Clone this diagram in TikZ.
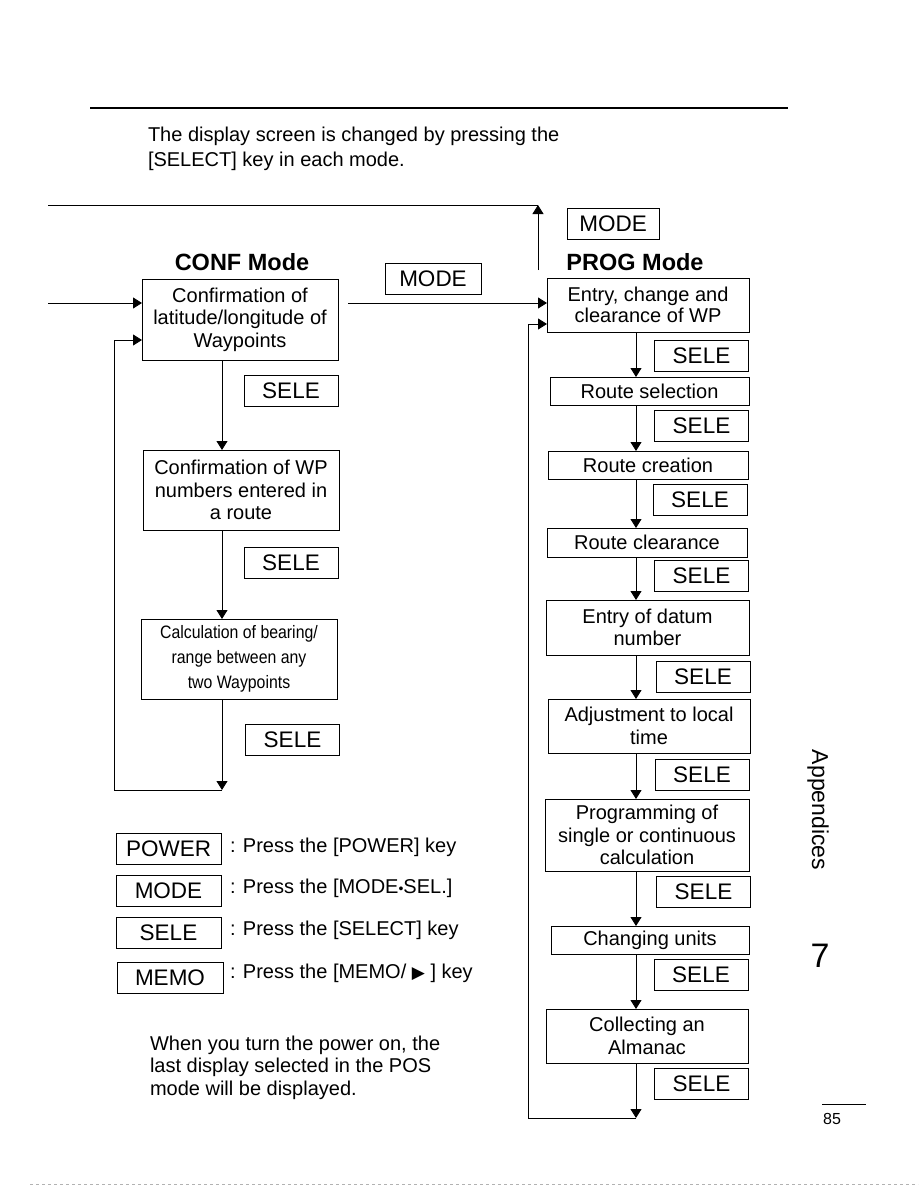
\documentclass[tikz,border=0pt]{standalone}
\usepackage{fontspec}
\setmainfont{Liberation Sans}
\newfontfamily\narrowfont[FakeStretch=0.88]{Liberation Sans}
\newfontfamily\symbolfont{DejaVu Sans}
\usetikzlibrary{arrows.meta}
\begin{document}
\begin{tikzpicture}[x=1pt,y=-1pt,line width=0.9pt,
  every node/.style={inner sep=0pt,outer sep=0pt},
  box/.style={draw,align=center,font=\fontsize{20}{22.5}\selectfont},
  keybox/.style={draw,minimum width=94pt,minimum height=31pt,font=\fontsize{22.5}{24}\selectfont},
  heading/.style={font=\fontsize{23.5}{26}\selectfont\bfseries},
  plain/.style={align=left,anchor=west,font=\fontsize{20}{25}\selectfont},
  arr/.style={-{Triangle[width=11pt,length=9pt]}}]
\useasboundingbox (0,0) rectangle (918,1188);
\draw[line width=2.5pt] (90,108) -- (788,108);
\node[plain] (intro) at (148,148.5) {The display screen is changed by pressing the\\{[SELECT]} key in each mode.};
\node[heading] (confhead) at (242,262) {CONF Mode};
\node[heading] (proghead) at (635,262) {PROG Mode};
\node[box,minimum width=196pt,minimum height=81pt] (conf1) at (240,319.5) {Confirmation of\\latitude/longitude of\\Waypoints};
\node[box,minimum width=196pt,minimum height=80pt] (conf2) at (241,490) {Confirmation of WP\\numbers entered in\\a route};
\node[box,minimum width=196pt,minimum height=80pt,font=\narrowfont\fontsize{18}{25}\selectfont] (conf3) at (239,659) {Calculation of bearing/\\range between any\\two Waypoints};
\node[keybox] (csele1) at (291,390.5) {SELE};
\node[keybox] (csele2) at (291,562.5) {SELE};
\node[keybox] (csele3) at (292.5,739.5) {SELE};
\node[keybox,minimum width=96pt] (modea) at (433,278.5) {MODE};
\node[keybox,minimum width=92pt] (modeb) at (613,223.5) {MODE};
\node[box,minimum width=202pt,minimum height=54pt,font=\fontsize{20}{21.5}\selectfont] (prog1) at (648,305) {Entry, change and\\clearance of WP};
\node[box,minimum width=199pt,minimum height=28pt] (prog2) at (649.5,391) {Route selection};
\node[box,minimum width=200pt,minimum height=28pt] (prog3) at (648,465) {Route creation};
\node[box,minimum width=200pt,minimum height=29pt] (prog4) at (647,542.5) {Route clearance};
\node[box,minimum width=203pt,minimum height=55pt] (prog5) at (647.5,627.5) {Entry of datum\\number};
\node[box,minimum width=202pt,minimum height=54pt] (prog6) at (649,726) {Adjustment to local\\time};
\node[box,minimum width=204pt,minimum height=72pt] (prog7) at (647,835) {Programming of\\single or continuous\\calculation};
\node[box,minimum width=198pt,minimum height=28pt] (prog8) at (650,940) {Changing units};
\node[box,minimum width=202pt,minimum height=54pt] (prog9) at (647,1036) {Collecting an\\Almanac};
\node[keybox] (psele1) at (701.5,355.5) {SELE};
\node[keybox] (psele2) at (701.5,426) {SELE};
\node[keybox] (psele3) at (700,500) {SELE};
\node[keybox] (psele4) at (701.5,575.5) {SELE};
\node[keybox] (psele5) at (703,676.5) {SELE};
\node[keybox] (psele6) at (702,774.5) {SELE};
\node[keybox] (psele7) at (703.5,891.5) {SELE};
\node[keybox] (psele8) at (701,975) {SELE};
\node[keybox] (psele9) at (701.5,1084) {SELE};
\coordinate (cx) at (222,0);
\coordinate (px) at (636,0);
\coordinate (cin) at (48,303);
\coordinate (cout) at (348,303);
\coordinate (cbot) at (222,790);
\coordinate (cret) at (114,340);
\coordinate (pbot) at (636,1118);
\coordinate (pret) at (528,324);
\coordinate (pup) at (538,270);
\coordinate (ptop) at (538,205);
\coordinate (tl) at (48,205);
\draw[arr] (cin) -- (conf1.west |- cin);
\draw[arr] (cout) -- (prog1.west |- cout);
\draw[arr] (pup) -- (ptop);
\draw (ptop) -- (tl);
\foreach \a/\b in {conf1/conf2,conf2/conf3}
  \draw[arr] (\a.south -| cx) -- (\b.north -| cx);
\draw[arr] (conf3.south -| cx) -- (cbot);
\draw[arr] (cbot) -| (cret) -- (conf1.west |- cret);
\foreach \a/\b in {prog1/prog2,prog2/prog3,prog3/prog4,prog4/prog5,prog5/prog6,prog6/prog7,prog7/prog8,prog8/prog9}
  \draw[arr] (\a.south -| px) -- (\b.north -| px);
\draw[arr] (prog9.south -| px) -- (pbot);
\draw[arr] (pbot) -| (pret) -- (prog1.west |- pret);
\node[keybox,minimum width=105pt] (kpower) at (168.5,848.5) {POWER};
\node[keybox,minimum width=105pt] (kmode) at (168.5,891) {MODE};
\node[keybox,minimum width=105pt] (ksele) at (168.5,933) {SELE};
\node[keybox,minimum width=106pt] (kmemo) at (170,977.5) {MEMO};
\node[plain] (tpower) at (230,847) {: Press the [POWER] key};
\node[plain] (tmode) at (230,888) {: Press the [MODE{\fontsize{14}{14}\selectfont\textbullet}SEL.]};
\node[plain] (tsele) at (230,930) {: Press the [SELECT] key};
\node[plain] (tmemo) at (230,973) {: Press the [MEMO/ {\symbolfont\fontsize{17}{17}\selectfont ▶} ] key};
\node[plain,font=\fontsize{20}{22.5}\selectfont] (note) at (150,1067.5) {When you turn the power on, the\\last display selected in the POS\\mode will be displayed.};
\node[rotate=-90,font=\fontsize{23}{23}\selectfont] (appx) at (818,810) {Appendices};
\node[font=\fontsize{34}{34}\selectfont] (chap) at (820,956) {7};
\draw (822,1104) -- (866,1104);
\node[font=\fontsize{16}{16}\selectfont] (page) at (832,1119) {85};
\draw[gray!60,dashed] (30,1184) -- (918,1184);
\end{tikzpicture}
\end{document}
